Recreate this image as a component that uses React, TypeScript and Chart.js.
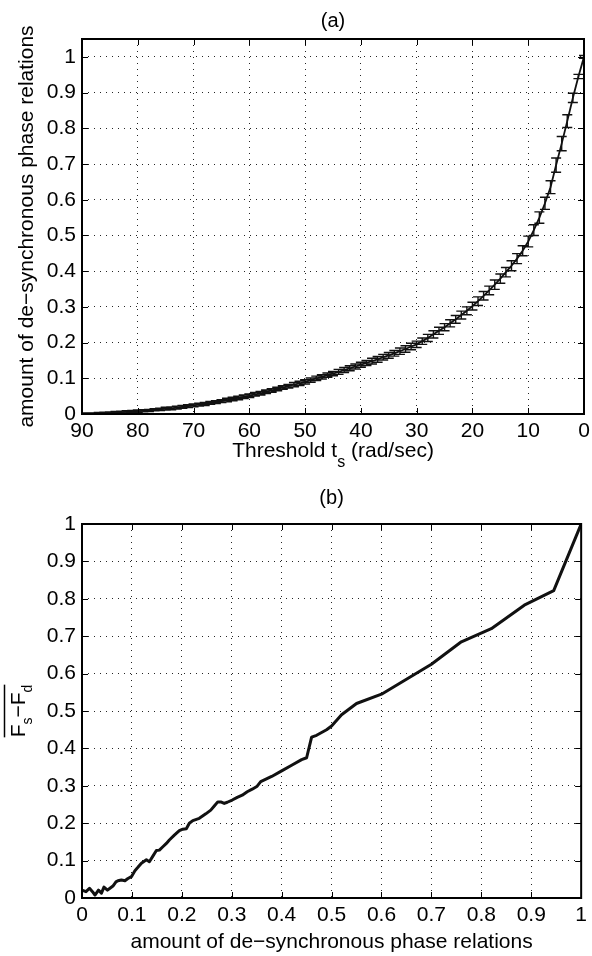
import React, { useEffect, useRef } from "react";
import { Chart, registerables } from "chart.js";

Chart.register(...registerables);

// ---------- Panel (a) data ----------
const thresholdA = [
  0, 1, 2, 3, 4, 5, 6, 7, 8, 9, 10, 11, 12, 13, 14, 15, 16, 17, 18, 19, 20,
  21, 22, 23, 24, 25, 26, 27, 28, 29, 30, 31, 32, 33, 34, 35, 36, 37, 38, 39, 40,
  41, 42, 43, 44, 45, 46, 47, 48, 49, 50, 51, 52, 53, 54, 55, 56, 57, 58, 59, 60,
  61, 62, 63, 64, 65, 66, 67, 68, 69, 70, 71, 72, 73, 74, 75, 76, 77, 78, 79, 80,
  81, 82, 83, 84, 85, 86, 87, 88, 89, 90,
];
const amountA = [
  1.0, 0.945, 0.885, 0.82, 0.757, 0.697, 0.635, 0.59, 0.55, 0.515, 0.483,
  0.457, 0.435, 0.415, 0.397, 0.379, 0.362, 0.346, 0.331, 0.316, 0.302,
  0.289, 0.277, 0.265, 0.254, 0.243, 0.233, 0.223, 0.213, 0.204, 0.195,
  0.189, 0.182, 0.176, 0.17, 0.164, 0.159, 0.153, 0.148, 0.143, 0.138,
  0.133, 0.128, 0.123, 0.118, 0.113, 0.109, 0.104, 0.1, 0.095, 0.09,
  0.086, 0.082, 0.078, 0.074, 0.07, 0.066, 0.062, 0.058, 0.055, 0.051,
  0.048, 0.045, 0.042, 0.039, 0.036, 0.033, 0.031, 0.028, 0.026, 0.024,
  0.022, 0.02, 0.018, 0.016, 0.015, 0.013, 0.012, 0.01, 0.009, 0.008,
  0.007, 0.006, 0.005, 0.004, 0.003, 0.003, 0.002, 0.001, 0.001, 0.0,
];
const errA = [
  0.004, 0.006, 0.013, 0.018, 0.02, 0.02, 0.018, 0.017, 0.016, 0.015, 0.015,
  0.014, 0.014, 0.014, 0.013, 0.013, 0.013, 0.012, 0.012, 0.012, 0.011,
  0.011, 0.011, 0.011, 0.01, 0.01, 0.01, 0.01, 0.01, 0.009, 0.009,
  0.009, 0.009, 0.009, 0.008, 0.008, 0.008, 0.008, 0.008, 0.007, 0.007,
  0.007, 0.007, 0.007, 0.007, 0.006, 0.006, 0.006, 0.006, 0.006, 0.006,
  0.006, 0.006, 0.005, 0.005, 0.005, 0.005, 0.005, 0.005, 0.005, 0.005,
  0.005, 0.005, 0.005, 0.005, 0.004, 0.004, 0.004, 0.004, 0.004, 0.004,
  0.004, 0.004, 0.004, 0.004, 0.004, 0.003, 0.003, 0.003, 0.003, 0.003,
  0.003, 0.003, 0.003, 0.003, 0.003, 0.002, 0.002, 0.002, 0.002, 0.002,
];
const xTicksA = [0, 10, 20, 30, 40, 50, 60, 70, 80, 90];
const yTicksA = [0, 0.1, 0.2, 0.3, 0.4, 0.5, 0.6, 0.7, 0.8, 0.9, 1];

// ---------- Panel (b) data ----------
const amountB = [
  0, 0.008, 0.015, 0.021, 0.026, 0.033, 0.039, 0.044, 0.051, 0.056, 0.062,
  0.068, 0.072, 0.079, 0.086, 0.092, 0.099, 0.106, 0.112, 0.119, 0.129,
  0.135, 0.142, 0.149, 0.155, 0.162, 0.169, 0.175, 0.185, 0.195, 0.202,
  0.209, 0.215, 0.222, 0.235, 0.248, 0.258, 0.265, 0.272, 0.278, 0.285,
  0.291, 0.301, 0.311, 0.321, 0.331, 0.341, 0.351, 0.358, 0.38, 0.4,
  0.42, 0.44, 0.45, 0.46, 0.47, 0.49, 0.5, 0.52, 0.55, 0.6, 0.65, 0.7,
  0.76, 0.82, 0.886, 0.945, 1.0,
];
const diffB = [
  0.021, 0.017, 0.026, 0.017, 0.008, 0.021, 0.013, 0.029, 0.021, 0.026, 0.032,
  0.043, 0.046, 0.048, 0.046, 0.052, 0.057, 0.073, 0.082, 0.093, 0.102,
  0.097, 0.112, 0.127, 0.128, 0.137, 0.146, 0.155, 0.168, 0.18, 0.184,
  0.185, 0.2, 0.207, 0.213, 0.225, 0.235, 0.246, 0.257, 0.257, 0.253,
  0.256, 0.262, 0.269, 0.275, 0.284, 0.291, 0.299, 0.311, 0.325, 0.34,
  0.355, 0.37, 0.375, 0.43, 0.435, 0.45, 0.46, 0.49, 0.52, 0.545, 0.585, 0.625,
  0.685, 0.72, 0.783, 0.822, 1.0,
];
const xTicksB = [0, 0.1, 0.2, 0.3, 0.4, 0.5, 0.6, 0.7, 0.8, 0.9, 1];
const yTicksB = [0, 0.1, 0.2, 0.3, 0.4, 0.5, 0.6, 0.7, 0.8, 0.9, 1];

const FONT = "'Liberation Sans', Arial, Helvetica, sans-serif";
const FS = 21;

type Run = { text: string; size: number; dy: number };

function runsWidth(ctx: CanvasRenderingContext2D, runs: Run[]) {
  let w = 0;
  for (const r of runs) {
    ctx.font = `${r.size}px ${FONT}`;
    w += ctx.measureText(r.text).width;
  }
  return w;
}

function drawRuns(ctx: CanvasRenderingContext2D, runs: Run[], cx: number, y: number) {
  const total = runsWidth(ctx, runs);
  let x = cx - total / 2;
  ctx.textAlign = "left";
  ctx.textBaseline = "alphabetic";
  ctx.fillStyle = "#000";
  for (const r of runs) {
    ctx.font = `${r.size}px ${FONT}`;
    ctx.fillText(r.text, x, y + r.dy);
    x += ctx.measureText(r.text).width;
  }
  return total;
}

function drawFrame(chart: any) {
  const { ctx, chartArea: a, scales } = chart;
  const xs = scales.x;
  const ys = scales.y;
  ctx.save();
  ctx.strokeStyle = "#000";
  ctx.lineWidth = 1;
  ctx.beginPath();
  for (const t of xs.ticks) {
    const px = Math.round(xs.getPixelForValue(t.value)) + 0.5;
    ctx.moveTo(px, a.bottom);
    ctx.lineTo(px, a.bottom - 6);
    ctx.moveTo(px, a.top);
    ctx.lineTo(px, a.top + 6);
  }
  for (const t of ys.ticks) {
    const py = Math.round(ys.getPixelForValue(t.value)) + 0.5;
    ctx.moveTo(a.left, py);
    ctx.lineTo(a.left + 6, py);
    ctx.moveTo(a.right, py);
    ctx.lineTo(a.right - 6, py);
  }
  ctx.stroke();
  ctx.lineWidth = 2;
  ctx.strokeRect(a.left, a.top, a.right - a.left, a.bottom - a.top);
  ctx.restore();
}

function fmt(v: number) {
  return String(Math.round(v * 100) / 100);
}

function makeScale(ticks: number[], min: number, max: number, reverse: boolean, size: number, horizontal: boolean) {
  return {
    type: "linear",
    min,
    max,
    reverse,
    afterBuildTicks: (s: any) => {
      s.ticks = ticks.map((v) => ({ value: v }));
    },
    afterFit: (s: any) => {
      if (horizontal) s.height = size;
      else s.width = size;
    },
    ticks: {
      autoSkip: false,
      maxRotation: 0,
      minRotation: 0,
      padding: horizontal ? 5 : 6,
      color: "#000",
      font: { family: FONT, size: FS },
      callback: (v: any) => fmt(Number(v)),
    },
    grid: {
      display: true,
      drawTicks: false,
      color: "rgba(0,0,0,0.85)",
      lineWidth: 1,
    },
    border: { display: false, dash: [1, 5] },
  };
}

function configA(): any {
  return {
    type: "line",
    data: {
      datasets: [
        {
          data: thresholdA.map((t, i) => ({ x: t, y: amountA[i] })),
          borderColor: "#111",
          borderWidth: 1.8,
          pointRadius: 0,
          fill: false,
          tension: 0,
        },
      ],
    },
    options: {
      responsive: false,
      animation: false,
      layout: { padding: { left: 0, right: 8, top: 39, bottom: 0 } },
      plugins: { legend: { display: false }, tooltip: { enabled: false }, title: { display: false } },
      scales: {
        x: makeScale(xTicksA, 0, 90, true, 64, true),
        y: makeScale(yTicksA, 0, 1.05, false, 82, false),
      },
    },
    plugins: [
      {
        id: "decoA",
        afterDatasetsDraw(chart: any) {
          const { ctx, chartArea: a } = chart;
          const meta = chart.getDatasetMeta(0);
          const ys = chart.scales.y;
          ctx.save();
          ctx.beginPath();
          ctx.rect(a.left, a.top, a.right - a.left, a.bottom - a.top);
          ctx.clip();
          ctx.strokeStyle = "#111";
          ctx.lineWidth = 1.4;
          ctx.beginPath();
          for (let i = 0; i < amountA.length; i++) {
            const x = meta.data[i].x;
            const y1 = ys.getPixelForValue(amountA[i] + errA[i]);
            const y2 = ys.getPixelForValue(amountA[i] - errA[i]);
            ctx.moveTo(x, y1);
            ctx.lineTo(x, y2);
            ctx.moveTo(x - 5, y1);
            ctx.lineTo(x + 5, y1);
            ctx.moveTo(x - 5, y2);
            ctx.lineTo(x + 5, y2);
          }
          ctx.stroke();
          ctx.restore();
        },
        afterDraw(chart: any) {
          drawFrame(chart);
          const { ctx, chartArea: a } = chart;
          const cx = (a.left + a.right) / 2;
          ctx.save();
          drawRuns(ctx, [{ text: "(a)", size: 20, dy: 0 }], cx, 27);
          drawRuns(
            ctx,
            [
              { text: "Threshold t", size: FS, dy: 0 },
              { text: "s", size: 16, dy: 10 },
              { text: " (rad/sec)", size: FS, dy: 0 },
            ],
            cx,
            457
          );
          ctx.translate(33, (a.top + a.bottom) / 2);
          ctx.rotate(-Math.PI / 2);
          drawRuns(ctx, [{ text: "amount of de\u2212synchronous phase relations", size: FS, dy: 0 }], 0, 0);
          ctx.restore();
        },
      },
    ],
  };
}

function configB(): any {
  return {
    type: "line",
    data: {
      datasets: [
        {
          data: amountB.map((u, i) => ({ x: u, y: diffB[i] })),
          borderColor: "#111",
          borderWidth: 3,
          borderJoinStyle: "round",
          borderCapStyle: "round",
          pointRadius: 0,
          fill: false,
          tension: 0,
        },
      ],
    },
    options: {
      responsive: false,
      animation: false,
      layout: { padding: { left: 0, right: 8, top: 46, bottom: 0 } },
      plugins: { legend: { display: false }, tooltip: { enabled: false }, title: { display: false } },
      scales: {
        x: makeScale(xTicksB, 0, 1, false, 58, true),
        y: makeScale(yTicksB, 0, 1, false, 82, false),
      },
    },
    plugins: [
      {
        id: "decoB",
        afterDraw(chart: any) {
          drawFrame(chart);
          const { ctx, chartArea: a } = chart;
          const cx = (a.left + a.right) / 2;
          ctx.save();
          drawRuns(ctx, [{ text: "(b)", size: 20, dy: 0 }], cx, 26);
          drawRuns(ctx, [{ text: "amount of de\u2212synchronous phase relations", size: FS, dy: 0 }], cx, 470);
          ctx.translate(25, (a.top + a.bottom) / 2);
          ctx.rotate(-Math.PI / 2);
          const runs: Run[] = [
            { text: "F", size: FS, dy: 0 },
            { text: "s", size: 14, dy: 7 },
            { text: "\u2212F", size: FS, dy: 0 },
            { text: "d", size: 14, dy: 7 },
          ];
          const w = drawRuns(ctx, runs, 0, 0);
          ctx.strokeStyle = "#000";
          ctx.lineWidth = 1.5;
          ctx.beginPath();
          ctx.moveTo(-w / 2, -20.5);
          ctx.lineTo(w / 2, -20.5);
          ctx.stroke();
          ctx.restore();
        },
      },
    ],
  };
}

export default function App() {
  const r1 = useRef<HTMLCanvasElement>(null);
  const r2 = useRef<HTMLCanvasElement>(null);
  useEffect(() => {
    const c1 = new Chart(r1.current as HTMLCanvasElement, configA());
    const c2 = new Chart(r2.current as HTMLCanvasElement, configB());
    return () => {
      c1.destroy();
      c2.destroy();
    };
  }, []);
  return (
    <div style={{ position: "absolute", left: 0, top: 0, width: 592, height: 956, background: "#fff" }}>
      <canvas ref={r1} width={592} height={478} style={{ display: "block", width: 592, height: 478 }} />
      <canvas ref={r2} width={592} height={478} style={{ display: "block", width: 592, height: 478 }} />
    </div>
  );
}
